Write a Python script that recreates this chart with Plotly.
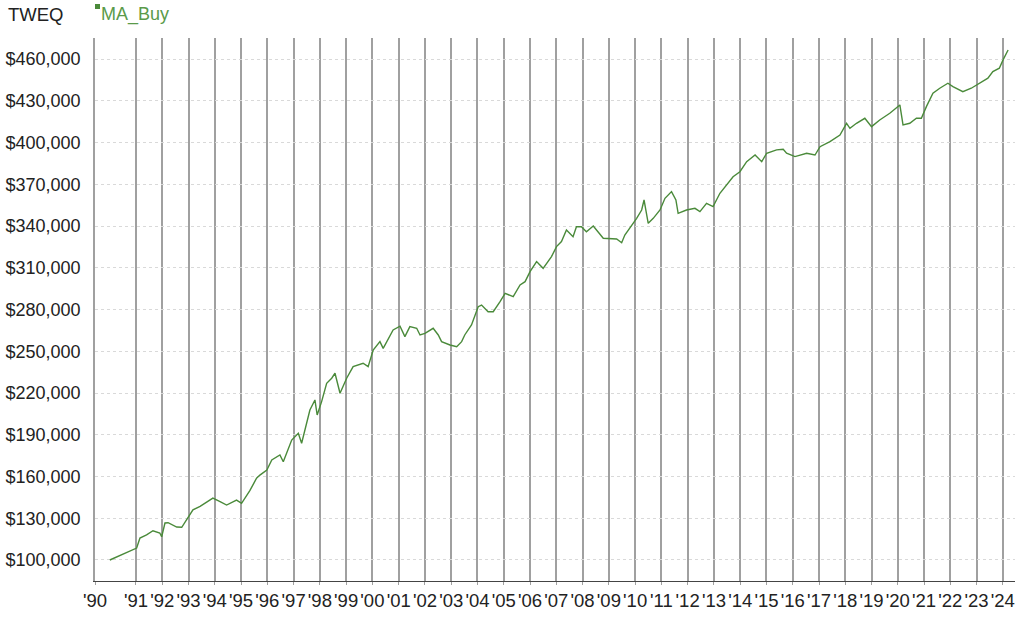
import plotly.graph_objects as go

dates = [
    "1990-01-02", "1990-12-15", "1991-01-10", "1991-02-25", "1991-05-28", "1991-08-25",
    "1991-11-28", "1991-12-24", "1992-02-08", "1992-03-22", "1992-07-20", "1992-09-28",
    "1992-12-05", "1993-03-03", "1993-06-10", "1993-09-09", "1993-12-05", "1994-03-15",
    "1994-06-14", "1994-10-30", "1995-01-08", "1995-05-05", "1995-08-04", "1995-09-20",
    "1995-12-25", "1996-03-03", "1996-06-24", "1996-08-10", "1996-12-05", "1997-03-07",
    "1997-04-22", "1997-08-15", "1997-10-24", "1997-11-24", "1998-01-25", "1998-04-05",
    "1998-06-14", "1998-07-30", "1998-10-08", "1999-01-08", "1999-04-08", "1999-08-25",
    "1999-11-03", "2000-01-12", "2000-04-15", "2000-05-30", "2000-10-15", "2001-01-19",
    "2001-03-28", "2001-06-05", "2001-09-08", "2001-10-24", "2002-01-01", "2002-04-25",
    "2002-07-05", "2002-08-20", "2002-12-15", "2003-03-18", "2003-05-26", "2003-07-08",
    "2003-10-10", "2004-01-11", "2004-02-27", "2004-05-28", "2004-08-07", "2004-11-10",
    "2005-01-19", "2005-05-12", "2005-08-15", "2005-10-24", "2006-01-01", "2006-04-02",
    "2006-07-02", "2006-10-26", "2007-01-04", "2007-03-14", "2007-05-22", "2007-08-22",
    "2007-10-08", "2007-12-16", "2008-02-24", "2008-05-29", "2008-10-15", "2009-04-19",
    "2009-06-28", "2009-08-11", "2009-10-19", "2010-01-22", "2010-04-02", "2010-05-05",
    "2010-07-02", "2010-09-10", "2010-12-13", "2011-02-20", "2011-05-22", "2011-07-22",
    "2011-08-22", "2011-12-16", "2012-04-12", "2012-06-20", "2012-09-20", "2012-12-20",
    "2013-03-25", "2013-06-25", "2013-09-24", "2013-12-28", "2014-04-01", "2014-07-27",
    "2014-10-27", "2015-01-04", "2015-05-22", "2015-08-22", "2015-10-08", "2016-02-02",
    "2016-07-13", "2016-11-06", "2017-01-15", "2017-06-02", "2017-10-19", "2018-01-19",
    "2018-03-07", "2018-06-06", "2018-09-30", "2019-01-01", "2019-04-25", "2019-09-12",
    "2020-01-30", "2020-03-14", "2020-06-16", "2020-09-16", "2020-11-24", "2021-02-02",
    "2021-05-04", "2021-08-07", "2021-11-28", "2022-02-06", "2022-06-24", "2022-10-19",
    "2023-02-13", "2023-06-07", "2023-08-15", "2023-11-13", "2024-01-04", "2024-03-14",
]

ma_buy = [
    100000, 108000, 108600, 115800, 118000, 121000,
    119400, 116700, 126600, 126800, 123700, 123500,
    128700, 136000, 138500, 141900, 144500, 142000,
    139500, 143000, 140700, 150000, 158800, 161000,
    164700, 171900, 175500, 170600, 186200, 191000,
    183900, 207800, 215000, 204200, 213800, 227000,
    230600, 234200, 219800, 230600, 238900, 241400,
    238900, 250900, 256900, 252100, 265300, 268000,
    260500, 267700, 266500, 261700, 262900, 266500,
    261700, 256900, 254500, 253300, 256900, 261700,
    268900, 282000, 283200, 278400, 278400, 285600,
    291600, 289200, 297600, 300000, 307200, 314400,
    309600, 318000, 325200, 328800, 337100, 332300,
    339500, 339500, 335900, 340000, 331200, 330700,
    328000, 333500, 338300, 345500, 351500, 358700,
    341900, 345500, 351500, 359900, 364700, 358700,
    349100, 351500, 352700, 350300, 356300, 353900,
    363500, 369500, 375400, 379000, 386200, 391000,
    386200, 392300, 394700, 395100, 392300, 389900,
    392300, 391000, 397000, 400600, 405400, 413800,
    410200, 413800, 417400, 411400, 416200, 421000,
    427000, 412600, 413800, 417400, 417400, 425800,
    435400, 439000, 442600, 440200, 436500, 439000,
    442600, 446200, 451000, 453400, 459400, 466500,
]

x_tickvals = ["1989-06-10"] + [f"{y}-01-01" for y in range(1991, 2025)]
x_ticktext = ["'90"] + [f"'{y % 100:02d}" for y in range(1991, 2025)]

y_tickvals = list(range(100000, 460001, 30000))
y_ticktext = [f"${v:,}" for v in y_tickvals]

LINE = "#4a8a3a"
LEG = "#5a9a4a"
FONT = "Liberation Sans, Arial, sans-serif"

W, H = 1024, 617
ML, MR, MT, MB = 95, 9, 38, 36

fig = go.Figure()
fig.add_trace(go.Scatter(
    x=dates, y=ma_buy, mode="lines", name="MA_Buy",
    line=dict(color=LINE, width=1.4),
))

fig.update_layout(
    width=W, height=H,
    margin=dict(l=ML, r=MR, t=MT, b=MB),
    paper_bgcolor="white", plot_bgcolor="white",
    showlegend=False,
    font=dict(family=FONT, size=18, color="#222222"),
)

fig.update_xaxes(
    type="date", automargin=False,
    range=["1989-06-10", "2024-06-18"],
    tickmode="array", tickvals=x_tickvals, ticktext=x_ticktext,
    showgrid=True, gridcolor="#a0a0a0", gridwidth=1.6,
    showline=True, linecolor="#444444", linewidth=1.4,
    ticks="outside", ticklen=3, tickcolor="#a0a0a0",
    tickfont=dict(family=FONT, size=18.5, color="#222222"),
    zeroline=False,
)

fig.update_yaxes(
    automargin=False,
    range=[84900, 475100],
    tickmode="array", tickvals=y_tickvals, ticktext=y_ticktext,
    showgrid=True, gridcolor="#d9d9d9", gridwidth=1, griddash="dot",
    showline=True, linecolor="#a0a0a0", linewidth=1.6,
    ticks="", ticklabelstandoff=9,
    tickfont=dict(family=FONT, size=18, color="#222222"),
    zeroline=False,
)

pw = W - ML - MR
ph = H - MT - MB


def px_x(x):
    return (x - ML) / pw


def px_y(y):
    return 1 + (MT - y) / ph


fig.add_annotation(
    x=px_x(6), y=px_y(2), xref="paper", yref="paper", xanchor="left", yanchor="top",
    text="TWEQ", showarrow=False,
    font=dict(family=FONT, size=18.5, color="#222222"),
)
fig.add_annotation(
    x=px_x(99), y=px_y(2), xref="paper", yref="paper", xanchor="left", yanchor="top",
    text="MA_Buy", showarrow=False,
    font=dict(family=FONT, size=18, color=LEG),
)
fig.add_shape(
    type="rect", xref="paper", yref="paper",
    x0=px_x(95), x1=px_x(100), y0=px_y(9), y1=px_y(4),
    fillcolor=LINE, line=dict(width=0),
)

fig.write_html("out.html", config={"displayModeBar": False},
               post_script="document.body.style.margin='0';")
